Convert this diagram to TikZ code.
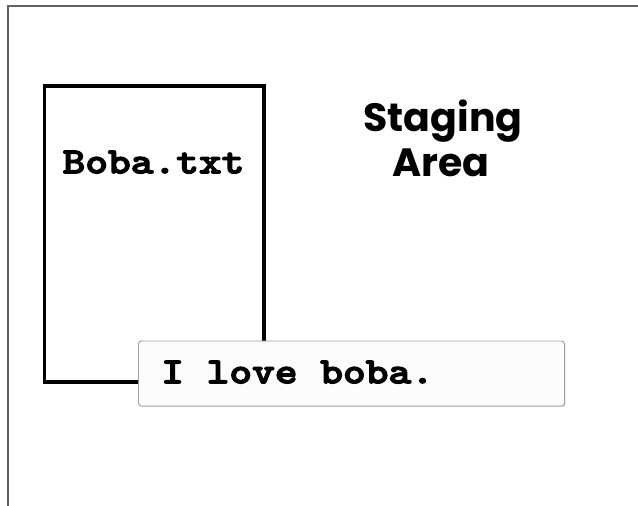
\documentclass[tikz,border=0pt]{standalone}
\usepackage{fontspec}
\usetikzlibrary{shadows}
\newfontfamily\headfont{Poppins}
\newfontfamily\codefont{lmmonolt10-bold.otf}[FakeBold=3]
% widen the typewriter face to Courier-like proportions
\newcommand\monowide[1]{\scalebox{1.17}[1]{#1}}
\begin{document}
\begin{tikzpicture}[x=1pt,y=-1pt,
  frame/.style={draw=black!62, line width=1.8pt},
  filebox/.style={draw=black, line width=3.5pt, inner sep=0pt,
    minimum width=219.5pt, minimum height=296pt},
  popup/.style={draw=black!38, fill=black!1, line width=0.9pt,
    rounded corners=3pt, inner sep=0pt,
    minimum width=426pt, minimum height=65pt,
    drop shadow={shadow xshift=0.8pt, shadow yshift=-0.8pt, opacity=0.2, fill=black}},
  code/.style={font=\fontsize{37}{40}\selectfont\codefont, inner sep=0pt},
  head/.style={font=\fontsize{39.5}{45}\selectfont\headfont\bfseries, inner sep=0pt}
]
\useasboundingbox (0,0) rectangle (638,506);

% outer frame, open towards the bottom right
\draw[frame] (7.8,506) |- (638,6.3);

% the file
\node[filebox] (file) at (154.25,234) {};
\node[code, anchor=base] (fname) at (153.5,173.3) {\monowide{Boba.txt}};

% heading
\node[head, anchor=base] (stage1) at (443,131.7) {Staging};
\node[head, anchor=base] (stage2) at (441,176.7) {Area};

% popup with the file's contents
\node[popup] (note) at (351.5,373.5) {};
\node[code, anchor=base west] (line) at (161,383.3) {\monowide{I love boba.}};
\end{tikzpicture}
\end{document}
